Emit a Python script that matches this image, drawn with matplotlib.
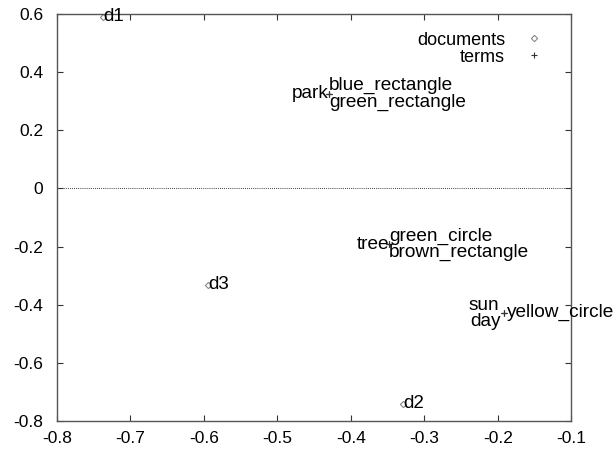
import matplotlib
matplotlib.use('Agg')
import matplotlib.pyplot as plt

plt.rcParams['font.family'] = ['Liberation Sans', 'DejaVu Sans']

# documents
doc_names = ['d1', 'd2', 'd3']
doc_x = [-0.737, -0.329, -0.594]
doc_y = [0.59, -0.741, -0.331]

# terms (several share the same spot)
term_names = ['park', 'blue_rectangle', 'green_rectangle',
              'tree', 'green_circle', 'brown_rectangle',
              'sun', 'day', 'yellow_circle']
term_x = [-0.430, -0.430, -0.430,
          -0.348, -0.348, -0.348,
          -0.192, -0.192, -0.192]
term_y = [0.326, 0.326, 0.326,
          -0.193, -0.193, -0.193,
          -0.428, -0.428, -0.428]

# label placement: (ha, dx, dy in points)
term_place = [('right', 0, 0), ('left', 0, 6), ('left', 0, -6),
              ('right', 0, 0), ('left', 0, 6), ('left', 0, -6),
              ('right', -3, 5), ('right', -2, -6), ('left', 2, 0)]

fig = plt.figure(figsize=(6.16, 4.54), dpi=100)
ax = fig.add_axes([0.0925, 0.073, 0.835, 0.896])

ax.axhline(0, color='black', lw=0.6, ls=(0, (1, 1.5)), zorder=1)

ax.plot(doc_x, doc_y, ls='none', marker='D', ms=3.2, mfc='none',
        mec='#888888', mew=0.8, label='documents')
ax.plot(term_x, term_y, ls='none', marker='+', ms=5, mec='#333333',
        mew=0.8, label='terms')

for name, x, y in zip(doc_names, doc_x, doc_y):
    ax.annotate(name, (x, y), xytext=(0, 0), textcoords='offset points',
                ha='left', va='center', fontsize=13.5)

for name, x, y, (ha, dx, dy) in zip(term_names, term_x, term_y, term_place):
    ax.annotate(name, (x, y), xytext=(dx, dy), textcoords='offset points',
                ha=ha, va='center', fontsize=13.7, annotation_clip=False)

ax.set_xlim(-0.8, -0.1)
ax.set_ylim(-0.8, 0.6)
ax.set_xticks([-0.8, -0.7, -0.6, -0.5, -0.4, -0.3, -0.2, -0.1])
ax.set_yticks([-0.8, -0.6, -0.4, -0.2, 0, 0.2, 0.4, 0.6])
ax.set_xticklabels(['-0.8', '-0.7', '-0.6', '-0.5', '-0.4', '-0.3', '-0.2', '-0.1'])
ax.set_yticklabels(['-0.8', '-0.6', '-0.4', '-0.2', '0', '0.2', '0.4', '0.6'])
ax.tick_params(direction='in', length=4, width=0.8, top=True, right=True,
               labelsize=12.5, color='#333333')
ax.tick_params(axis='y', pad=10)
ax.tick_params(axis='x', pad=7)
for s in ax.spines.values():
    s.set_color('#555555')
    s.set_linewidth(1)

ax.legend(loc='upper right', frameon=False, markerfirst=False, fontsize=13,
          handlelength=1.2, handletextpad=1.0, labelspacing=0.0,
          bbox_to_anchor=(0.98, 0.997))

fig.savefig('out.png', dpi=100)
